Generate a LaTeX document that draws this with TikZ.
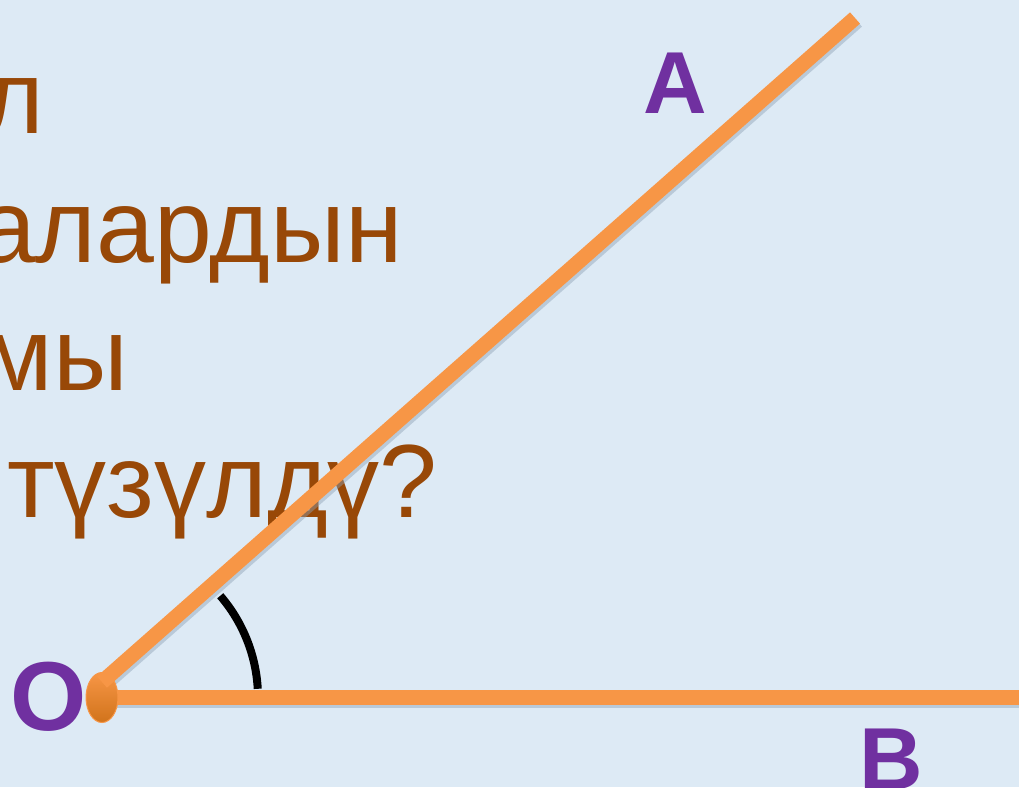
\documentclass[tikz,border=0pt]{standalone}
\usepackage{fontspec}
\usetikzlibrary{calc}
\newfontfamily\txtfont{Liberation Sans}
\definecolor{bgc}{HTML}{DDEAF5}
\definecolor{ray}{HTML}{F79646}
\definecolor{dotc}{HTML}{E8801E}
\definecolor{brownc}{HTML}{984807}
\definecolor{purp}{HTML}{7030A0}
\definecolor{shad}{HTML}{8EA2B6}
\tikzset{
  raystyle/.style={draw=ray, line width=15pt},
  rayshadow/.style={draw=shad, line width=15pt, opacity=0.45},
  txt/.style={text=brownc, font=\txtfont\fontsize{104}{128}\selectfont, inner sep=0pt, anchor=base east},
  lbl/.style={text=purp, font=\txtfont\bfseries\fontsize{88}{100}\selectfont, inner sep=0pt},
}
\begin{document}
\begin{tikzpicture}[x=1pt,y=-1pt]
\useasboundingbox (0,0) rectangle (1019,787);
\clip (0,0) rectangle (1019,787);
\fill[bgc] (0,0) rectangle (1019,787);
% text lines
\node[txt] (t1) at (44,133) {л};
\node[txt] (t2) at (403,262) {алардын};
\node[txt] (t3) at (128,390) {мы};
\node[txt] (t4) at (438,517) {түзүлдү?};
% points
\coordinate (Oc) at (102,697.5);
\coordinate (Od) at (102,682);
\coordinate (Ae) at (855,18);
\coordinate (Be) at (1030,697.5);
% shadows
\draw[rayshadow] ($(Oc)+(2,3)$) -- ($(Be)+(2,3)$);
\draw[rayshadow] ($(Od)+(2,3)$) -- ($(Ae)+(2,3)$);
% rays
\draw[raystyle] (Oc) -- (Be);
\shade[top color=ray, bottom color=dotc!90!black, draw=ray, line width=1pt] (Oc) ellipse [x radius=16, y radius=25];
\draw[raystyle] (Od) -- (Ae);
% angle arc
\draw[black, line width=8pt] plot[domain=3.2:40.7, samples=40] ({102+156*cos(\x)},{697.5-156*sin(\x)});
% labels
\node[lbl, anchor=base] (A) at (675,113) {A};
\node[lbl, anchor=base] (B) at (891,789) {B};
\node[lbl, anchor=center, font=\txtfont\bfseries\fontsize{98}{100}\selectfont] (O) at (49,697) {O};
\end{tikzpicture}
\end{document}
